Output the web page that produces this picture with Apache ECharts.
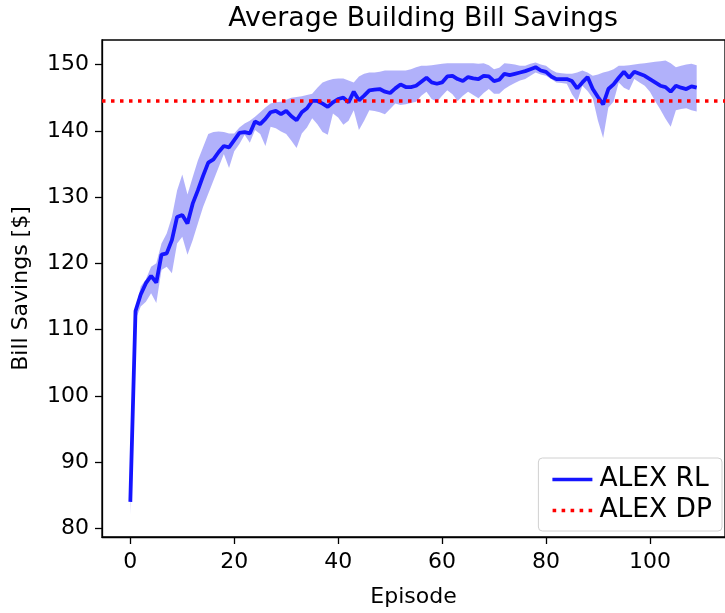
<!DOCTYPE html>
<html>
<head>
<meta charset="utf-8">
<script src="https://cdn.jsdelivr.net/npm/echarts@6/dist/echarts.min.js"></script>
<style>
html,body{margin:0;padding:0;background:#fff;}
#chart{width:725px;height:613px;}
</style>
</head>
<body>
<div id="chart"></div>
<script>
const episodes = [];
for (let i = 0; i < 110; i++) episodes.push(i);

const rlMean = [
  84.0, 112.8, 115.3, 117.0, 118.1, 117.1, 121.3, 121.5, 123.5, 127.0,
  127.3, 126.0, 129.0, 131.0, 133.2, 135.2, 135.7, 136.8, 137.7, 137.5,
  138.6, 139.7, 139.8, 139.6, 141.4, 141.0, 141.8, 142.8, 143.0, 142.5,
  143.0, 142.2, 141.6, 142.8, 143.4, 144.5, 144.5, 144.1, 143.6, 144.3,
  144.8, 145.0, 144.3, 145.9, 144.6, 145.3, 146.1, 146.2, 146.3, 145.9,
  145.7, 146.4, 147.0, 146.6, 146.6, 146.8, 147.4, 148.0, 147.3, 147.1,
  147.3, 148.2, 148.3, 147.8, 147.5, 148.1, 147.9, 147.8, 148.3, 148.2,
  147.5, 147.7, 148.6, 148.4, 148.6, 148.8, 149.0, 149.3, 149.6, 149.1,
  148.9, 148.2, 147.8, 147.8, 147.8, 147.5, 146.4, 147.3, 148.1, 146.3,
  145.1, 144.0, 146.3, 147.0, 148.0, 148.9, 148.0, 148.9, 148.6, 148.3,
  147.8, 147.3, 146.8, 146.6, 145.9, 146.8, 146.5, 146.3, 146.7, 146.5
];

const rlUpper = [
  84.2, 113.0, 116.5, 117.6, 119.5, 120.0, 123.0, 124.5, 127.0, 131.0,
  133.4, 130.4, 133.0, 135.5, 137.5, 139.5, 139.8, 139.9, 139.8, 139.6,
  139.6, 140.5, 141.1, 141.5, 142.1, 142.8, 143.5, 144.1, 144.3, 144.4,
  144.7, 145.0, 145.1, 145.2, 145.4, 145.6, 146.5, 147.3, 147.6, 147.8,
  147.9, 147.9, 147.6, 147.3, 148.2, 148.6, 148.8, 148.8, 148.9, 149.1,
  149.1, 149.1, 149.1, 149.1, 149.3, 149.6, 149.8, 149.8, 149.9, 150.0,
  150.1, 150.2, 150.2, 150.2, 150.2, 150.2, 150.2, 150.1, 150.2, 149.9,
  149.3, 149.5, 150.2, 150.1, 150.0, 149.8, 149.8, 150.1, 150.3, 150.0,
  149.8, 149.2, 148.8, 148.7, 148.6, 148.6, 148.8, 149.1, 148.8, 148.3,
  148.5, 148.8, 149.0, 149.3, 149.8, 149.8, 149.9, 150.0, 150.1, 150.2,
  150.3, 150.4, 150.5, 150.6, 150.2, 149.6, 149.8, 150.0, 150.1, 149.9
];

const rlLower = [
  82.1, 111.5, 113.5, 114.2, 115.5, 114.0, 119.0, 119.5, 118.5, 123.0,
  124.0, 121.3, 123.5, 126.0, 128.5, 130.5, 132.5, 134.5, 136.5, 134.4,
  136.9, 138.0, 139.4, 138.2, 140.1, 139.5, 137.7, 140.6, 140.4, 139.9,
  139.5, 138.5, 137.4, 139.6, 140.5, 141.9, 141.0, 139.8, 139.4, 142.6,
  142.0, 140.9, 141.5, 143.1, 140.1, 141.5, 143.1, 143.0, 142.8, 142.5,
  143.3, 144.1, 143.9, 144.0, 144.2, 144.4, 145.3, 145.9, 144.8, 144.4,
  145.3, 146.1, 145.5, 144.5, 145.3, 145.9, 145.4, 144.9, 145.7, 146.3,
  145.6, 145.6, 146.3, 146.8, 147.2, 147.6, 147.8, 148.3, 148.8, 148.5,
  148.3, 147.8, 147.3, 147.2, 147.1, 145.5, 144.4, 146.8, 146.0, 144.9,
  141.5, 138.9, 143.5, 144.4, 147.3, 146.5, 146.1, 147.8, 147.3, 146.8,
  145.9, 144.5, 143.2, 141.8, 140.6, 143.1, 143.3, 143.4, 143.1, 142.9
];

const dpValue = 144.6;

const xTicks = [0, 20, 40, 60, 80, 100];
const yTicks = [80, 90, 100, 110, 120, 130, 140, 150];

const FONT = 'DejaVu Sans';
const chart = echarts.init(document.getElementById('chart'), null, {renderer: 'canvas'});

const meanData = episodes.map((e, i) => [e, rlMean[i]]);
const bandData = episodes.map((e, i) => [e, rlLower[i], rlUpper[i]]);

const solidIcon = 'path://M0,0H40V3.6H0Z';
const dottedIcon = 'path://M0,0H3.6V3.6H0Z M9,0H12.6V3.6H9Z M18,0H21.6V3.6H18Z M27,0H30.6V3.6H27Z M36,0H39.6V3.6H36Z';

const option = {
  backgroundColor: '#ffffff',
  animation: false,
  title: {
    text: 'Average Building Bill Savings',
    left: 418, textAlign: 'center', top: 1,
    textStyle: {fontFamily: FONT, fontSize: 26.8, fontWeight: 'normal', color: '#000'}
  },
  legend: {
    data: [
      {name: 'ALEX RL', icon: solidIcon, itemStyle: {color: '#1515ff'}},
      {name: 'ALEX DP', icon: dottedIcon, itemStyle: {color: '#ff0000'}}
    ],
    orient: 'vertical',
    right: 3, top: 458,
    padding: [6, 10, 5, 14],
    itemGap: 0,
    itemWidth: 40, itemHeight: 3.6,
    borderColor: '#d0d0d0', borderWidth: 1, borderRadius: 4,
    backgroundColor: '#fff',
    textStyle: {fontFamily: FONT, fontSize: 26.5, color: '#000', lineHeight: 31, padding: [0, 0, 0, 2]}
  },
  grid: {left: 102, top: 40, width: 633, height: 504, show: true, borderColor: '#000', borderWidth: 1.3, backgroundColor: 'transparent'},
  xAxis: {
    type: 'value', min: -5.45, max: 114.45,
    name: 'Episode', nameLocation: 'middle', nameGap: 49,
    nameTextStyle: {fontFamily: FONT, fontSize: 22, color: '#000'},
    axisLine: {show: true, onZero: false, lineStyle: {color: '#000', width: 1.3}},
    axisTick: {show: true, length: 7, lineStyle: {color: '#000', width: 1.3}, customValues: xTicks},
    axisLabel: {customValues: xTicks, margin: 14, fontFamily: FONT, fontSize: 22, color: '#000'},
    splitLine: {show: false}
  },
  yAxis: {
    type: 'value', min: 78.7, max: 153.7,
    name: 'Bill Savings [$]', nameLocation: 'middle', nameGap: 70, nameRotate: 90,
    nameTextStyle: {fontFamily: FONT, fontSize: 22, color: '#000'},
    axisLine: {show: true, onZero: false, lineStyle: {color: '#000', width: 1.3}},
    axisTick: {show: true, length: 7, lineStyle: {color: '#000', width: 1.3}, customValues: yTicks},
    axisLabel: {customValues: yTicks, margin: 13, fontFamily: FONT, fontSize: 22, color: '#000'},
    splitLine: {show: false}
  },
  series: [
    {
      name: 'band',
      type: 'custom',
      silent: true,
      clip: true,
      data: bandData,
      encode: {x: 0, y: [1, 2]},
      renderItem: function (params, api) {
        if (params.dataIndex !== 0) return null;
        const pts = [];
        for (let i = 0; i < bandData.length; i++) pts.push(api.coord([bandData[i][0], bandData[i][2]]));
        for (let i = bandData.length - 1; i >= 0; i--) pts.push(api.coord([bandData[i][0], bandData[i][1]]));
        return {type: 'polygon', shape: {points: pts}, style: {fill: 'rgba(40,40,240,0.36)'}};
      },
      z: 1
    },
    {
      name: 'ALEX RL',
      type: 'line',
      data: meanData,
      showSymbol: false, symbol: 'none',
      lineStyle: {color: '#1515ff', width: 3.8},
      itemStyle: {color: '#1515ff'},
      z: 3
    },
    {
      name: 'ALEX DP',
      type: 'line',
      data: [],
      symbol: 'none',
      lineStyle: {color: '#ff0000', width: 3.5, type: [3.5, 5.5]},
      itemStyle: {color: '#ff0000'},
      markLine: {
        silent: true, symbol: 'none',
        label: {show: false},
        lineStyle: {color: '#ff0000', width: 3.5, type: [3.5, 5.5]},
        data: [{yAxis: dpValue}]
      },
      z: 4
    }
  ]
};
chart.setOption(option);
</script>
</body>
</html>
